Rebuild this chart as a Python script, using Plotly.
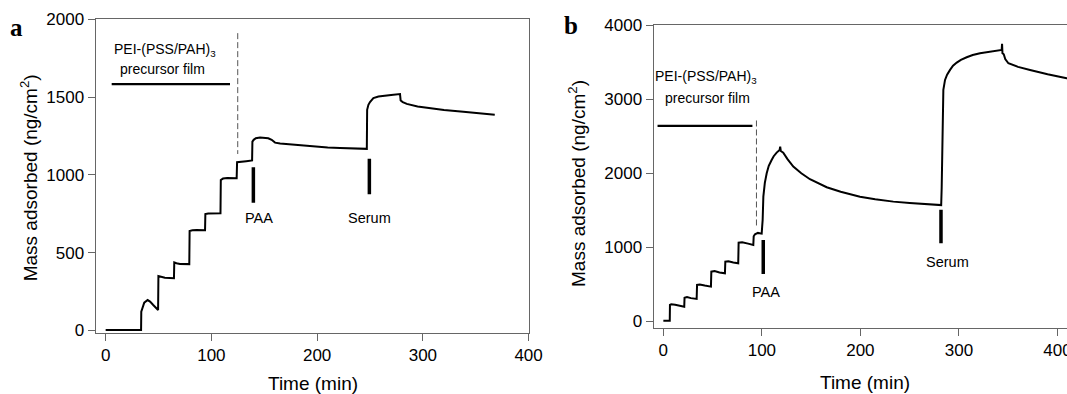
import plotly.graph_objects as go

# ---------------- data ----------------
# Panel a: mass adsorbed vs time
time_a = [0, 33.5, 33.7, 35, 36.5, 39.7, 42, 45, 49.6,
          49.9, 52, 56, 64.6,
          64.9, 67, 70.3, 79.1,
          79.4, 82, 86, 94,
          94.3, 97, 108.6,
          108.9, 111, 115, 123.9,
          124.3, 128, 133, 138.5,
          138.8, 140, 142, 146, 150, 153.8, 157, 160.2, 165, 171.2, 185, 196.4, 210, 221.7, 235, 247,
          247.3, 248.5, 250, 253.2, 258, 262.6, 270, 278.4,
          279, 281, 284.8, 295, 306.8, 320, 338.3, 354, 368]
mass_a = [2, 2, 120, 150, 178, 195, 185, 163, 131,
          349, 344, 339, 335,
          437, 432, 427, 426,
          639, 643, 645, 644,
          748, 752, 753,
          967, 976, 979, 978,
          1081, 1086, 1088, 1093,
          1214, 1225, 1235, 1240, 1239, 1235, 1225, 1207, 1201, 1197, 1188, 1181, 1176, 1173, 1170, 1167,
          1418, 1450, 1468, 1493, 1503, 1508, 1514, 1519,
          1478, 1468, 1456, 1440, 1429, 1417, 1405, 1395, 1387]

# Panel b: mass adsorbed vs time
time_b = [0, 6.5, 6.7, 8, 12, 16, 21.2,
          21.5, 24, 28, 33.8,
          34.2, 37, 42, 48.3,
          48.7, 52, 57, 62.5,
          62.9, 66, 71, 76,
          76.4, 80, 86, 91.3,
          91.7, 93, 96, 99.8,
          100.3, 100.8, 101.5, 103, 104.9, 107, 109.9, 112, 115, 118, 118.6, 119.2, 121.7, 126, 131.9,
          140, 148.8, 157, 165.8, 180, 199.6, 215, 233.4, 250, 267.3, 282,
          282.5, 283.2, 283.8, 284.2, 285.9, 288, 291, 294, 297.8, 302, 307.9, 314, 321.4, 332, 343.4,
          343.8, 344.2, 345.5, 346, 347, 350.2, 360, 372.2, 390, 409.4, 415]
mass_b = [10, 10, 223, 232, 226, 215, 200,
          321, 330, 315, 304,
          493, 500, 485, 470,
          672, 680, 662, 650,
          807, 812, 795, 785,
          1063, 1070, 1050, 1032,
          1150, 1177, 1195, 1185,
          1280, 1370, 1684, 1870, 2000, 2100, 2179, 2230, 2278, 2314, 2359, 2300, 2278, 2190, 2089,
          2000, 1919, 1862, 1811, 1750, 1684, 1650, 1617, 1600, 1586, 1570,
          1800, 2500, 3000, 3124, 3259, 3330, 3394, 3450, 3493, 3530, 3565, 3595, 3619, 3645, 3664,
          3745, 3620, 3605, 3570, 3540, 3484, 3435, 3394, 3335, 3282, 3268]

# Injection markers: (time, top, bottom) and labels
inject_labels = ["PAA", "Serum"]
inject_time_a = [139.7, 249.4]
inject_top_a = [1049, 1104]
inject_bot_a = [821, 875]
inject_time_b = [101.4, 281.8]
inject_top_b = [1100, 1508]
inject_bot_b = [641, 1055]

# Precursor film bar: [start, end, level]; dashed divider: [time, top, bottom]
film_a = [5.7, 117.6, 1583]
divider_a = [124.9, 1911, 1134]
film_b = [-5.9, 90.4, 2640]
divider_b = [94.5, 2712, 1270]

x_ticks = [0, 100, 200, 300, 400]
y_ticks_a = [0, 500, 1000, 1500, 2000]
y_ticks_b = [0, 1000, 2000, 3000, 4000]

# ---------------- figure ----------------
W, H = 1067, 394
FONT = "Liberation Sans, Arial, sans-serif"
AXC = "#666666"

def px_x(p):
    return p / W

def px_y(p):
    return 1 - p / H

fig = go.Figure()
fig.add_trace(go.Scatter(x=time_a, y=mass_a, mode="lines", xaxis="x", yaxis="y",
                         line=dict(color="black", width=2), showlegend=False))
fig.add_trace(go.Scatter(x=time_b, y=mass_b, mode="lines", xaxis="x2", yaxis="y2",
                         line=dict(color="black", width=2), showlegend=False))

shapes = []
annotations = []

def add_panel(xr, yr, film, divider, itimes, itops, ibots, lab_offsets, pei_pos, pf_pos):
    shapes.append(dict(type="line", xref=xr, yref=yr, x0=film[0], x1=film[1], y0=film[2], y1=film[2],
                       line=dict(color="black", width=2.2)))
    shapes.append(dict(type="line", xref=xr, yref=yr, x0=divider[0], x1=divider[0], y0=divider[1], y1=divider[2],
                       line=dict(color="#555555", width=1, dash="6px,3px")))
    for t, top, bot, lab, off in zip(itimes, itops, ibots, inject_labels, lab_offsets):
        shapes.append(dict(type="line", xref=xr, yref=yr, x0=t, x1=t, y0=top, y1=bot,
                           line=dict(color="black", width=3.5)))
        annotations.append(dict(xref=xr, yref=yr, x=t + off[0], y=off[1], text=lab, showarrow=False,
                                font=dict(family=FONT, size=14.5, color="black"),
                                xanchor="center", yanchor="middle"))
    annotations.append(dict(xref=xr, yref=yr, x=pei_pos[0], y=pei_pos[1], text="PEI-(PSS/PAH)<sub>3</sub>",
                            showarrow=False, font=dict(family=FONT, size=14, color="black"),
                            xanchor="center", yanchor="middle"))
    annotations.append(dict(xref=xr, yref=yr, x=pf_pos[0], y=pf_pos[1], text="precursor film",
                            showarrow=False, font=dict(family=FONT, size=14, color="black"),
                            xanchor="center", yanchor="middle"))

add_panel("x", "y", film_a, divider_a, inject_time_a, inject_top_a, inject_bot_a,
          [(5, 720), (0, 720)], (56, 1804), (54, 1681))
add_panel("x2", "y2", film_b, divider_b, inject_time_b, inject_top_b, inject_bot_b,
          [(2.5, 402), (6.8, 807)], (43.5, 3300), (45.3, 3016))

# axis titles and panel letters
ytitle = "Mass adsorbed (ng/cm<sup>2</sup>)"
for xc, yc in [(29.3, 178), (577, 184)]:
    annotations.append(dict(xref="paper", yref="paper", x=px_x(xc), y=px_y(yc), text=ytitle,
                            textangle=-90, showarrow=False, xanchor="center", yanchor="middle",
                            font=dict(family=FONT, size=19, color="black")))
for xc, yc in [(312.5, 383), (865, 382)]:
    annotations.append(dict(xref="paper", yref="paper", x=px_x(xc), y=px_y(yc), text="Time (min)",
                            showarrow=False, xanchor="center", yanchor="middle",
                            font=dict(family=FONT, size=19, color="black")))
for lab, xc, yc in [("a", 16, 27), ("b", 571, 25)]:
    annotations.append(dict(xref="paper", yref="paper", x=px_x(xc), y=px_y(yc), text="<b>%s</b>" % lab,
                            showarrow=False, xanchor="center", yanchor="middle",
                            font=dict(family="Liberation Serif, Times New Roman, serif", size=25, color="black")))

axis_common = dict(showgrid=False, zeroline=False, showline=True, linecolor=AXC, linewidth=1,
                   ticks="outside", ticklen=7, tickwidth=1, tickcolor=AXC,
                   tickfont=dict(family=FONT, size=17, color="black"), automargin=False,
                   ticklabeloverflow="allow")

fig.update_layout(
    width=W, height=H,
    margin=dict(l=0, r=0, t=0, b=0),
    paper_bgcolor="white", plot_bgcolor="white",
    xaxis=dict(domain=[px_x(95.5), px_x(528.6)], range=[-9.6, 400], tickvals=x_ticks,
               mirror=True, anchor="y", **axis_common),
    yaxis=dict(domain=[px_y(332.7), px_y(19.3)], range=[-15, 2000], tickvals=y_ticks_a,
               mirror=True, anchor="x", **axis_common),
    xaxis2=dict(domain=[px_x(653.6), 1.0], range=[-9.9, 409.7], tickvals=x_ticks,
                mirror=True, anchor="y2", **axis_common),
    yaxis2=dict(domain=[px_y(328), px_y(25)], range=[-88, 4000], tickvals=y_ticks_b,
                mirror=False, anchor="x2", **axis_common),
    shapes=shapes,
    annotations=annotations,
)

fig.write_html("out.html", config={"displayModeBar": False},
               post_script="document.body.style.margin='0';")
